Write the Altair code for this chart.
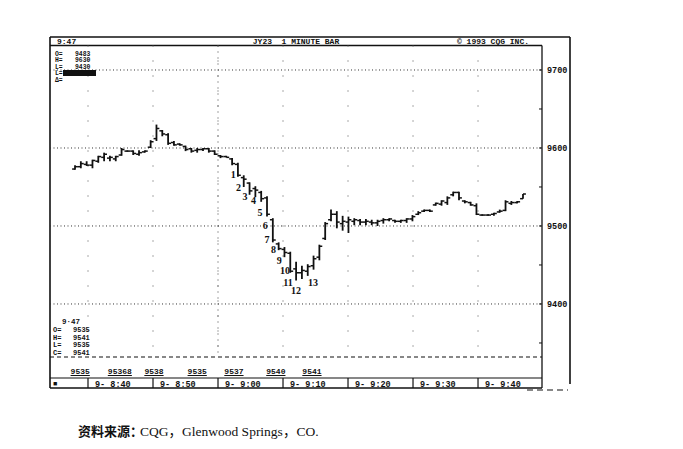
import altair as alt
import pandas as pd

# ---------------- data ----------------
bar_open = [9573, 9576, 9579, 9578, 9583, 9588, 9587, 9586, 9591, 9596,
            9596, 9592, 9595, 9601, 9612, 9622, 9617, 9607, 9605, 9602,
            9599, 9597, 9598, 9599, 9596, 9590, 9589, 9586,
            9579, 9562, 9555, 9548, 9543, 9536, 9508, 9477, 9470, 9465, 9445, 9440, 9442,
            9449, 9460, 9484, 9508, 9515, 9503, 9505, 9506, 9507, 9505,
            9505, 9504, 9507, 9508, 9507, 9506, 9507, 9509, 9515, 9519,
            9520, 9527, 9528, 9530, 9540, 9543, 9532, 9530, 9526, 9514,
            9514, 9515, 9518, 9520, 9529, 9530, 9535]
bar_high = [9578, 9583, 9583, 9585, 9590, 9594, 9590, 9590, 9600, 9597,
            9597, 9597, 9597, 9610, 9630, 9623, 9619, 9609, 9606, 9603,
            9600, 9600, 9600, 9600, 9597, 9591, 9590, 9587,
            9581, 9565, 9556, 9551, 9545, 9538, 9510, 9479, 9473, 9467, 9454, 9449, 9451,
            9462, 9476, 9505, 9521, 9519, 9513, 9512, 9510, 9509, 9509,
            9508, 9508, 9510, 9510, 9508, 9508, 9510, 9514, 9519, 9521,
            9521, 9530, 9533, 9538, 9544, 9544, 9533, 9531, 9529, 9515,
            9515, 9517, 9521, 9533, 9532, 9532, 9541]
bar_low = [9572, 9574, 9577, 9574, 9581, 9583, 9583, 9583, 9590, 9595,
           9591, 9590, 9594, 9600, 9609, 9615, 9604, 9603, 9603, 9596,
           9594, 9594, 9596, 9594, 9591, 9587, 9588, 9578,
           9563, 9550, 9540, 9537, 9531, 9512, 9479, 9469, 9460, 9440, 9430, 9432, 9436,
           9444, 9456, 9482, 9506, 9497, 9494, 9491, 9501, 9501, 9501,
           9501, 9500, 9503, 9506, 9504, 9504, 9504, 9506, 9514, 9518,
           9518, 9526, 9526, 9527, 9538, 9533, 9529, 9526, 9514, 9513,
           9513, 9513, 9517, 9519, 9527, 9529, 9535]
bar_close = [9576, 9580, 9578, 9584, 9589, 9592, 9588, 9589, 9598, 9596,
             9593, 9594, 9596, 9608, 9625, 9618, 9606, 9604, 9604, 9598,
             9596, 9598, 9599, 9596, 9592, 9589, 9588, 9580,
             9565, 9560, 9545, 9546, 9535, 9515, 9482, 9471, 9466, 9442, 9440, 9443, 9448,
             9458, 9474, 9503, 9515, 9505, 9506, 9508, 9508, 9505, 9506,
             9504, 9506, 9508, 9509, 9506, 9507, 9509, 9512, 9517, 9520,
             9519, 9529, 9532, 9536, 9543, 9536, 9531, 9527, 9515, 9514,
             9514, 9516, 9519, 9531, 9530, 9531, 9541]

grid_prices = [9700, 9600, 9500, 9400]
axis_ticks = [9350, 9400, 9450, 9500, 9550, 9600, 9650, 9700]

count_labels = [str(k) for k in range(1, 14)]
count_bar = list(range(28, 41))
count_price = [9565, 9549, 9537, 9532, 9517, 9500, 9482, 9469, 9455, 9442, 9427, 9417, 9427]
count_shift = [-0.8, -0.9, -0.8, -0.3, -0.2, -0.3, -1.0, -0.9, -0.9, -0.9, -1.4, -1.0, 0.9]

time_minutes = [0, 10, 20, 30, 40, 50, 60]
time_labels = ["9- 8:40", "9- 8:50", "9- 9:00", "9- 9:10", "9- 9:20", "9- 9:30", "9- 9:40"]

tape_prices = ["9535", "95368", "9538", "9535", "9537", "9540", "9541"]
tape_minutes = [-1.2, 4.9, 10.15, 16.8, 22.45, 28.9, 34.45]

top_info_keys = ["O=", "H=", "L=", "L=", "Δ="]
top_info_vals = ["9483", "9630", "9430", "", "+58"]
bottom_info_time = "9·47"
bottom_info_keys = ["O=", "H=", "L=", "C="]
bottom_info_vals = ["9535", "9541", "9535", "9541"]

header_left = "9:47"
header_mid = "JY23\u00a0\u00a01\u00a0MINUTE\u00a0BAR"
header_right = "©\u00a01993\u00a0CQG\u00a0INC."
caption_cn = "资料来源："
caption_en = "CQG，Glenwood Springs，CO."

# ---------------- tables ----------------
bars = pd.DataFrame({"i": range(len(bar_open)), "o": bar_open, "h": bar_high,
                     "l": bar_low, "c": bar_close})
grid = pd.DataFrame({"p": grid_prices})
ticks = pd.DataFrame({"p": axis_ticks})
counts = pd.DataFrame({"t": count_labels, "b": count_bar, "p": count_price, "s": count_shift})
times = pd.DataFrame({"m": time_minutes, "t": time_labels})
tape = pd.DataFrame({"m": tape_minutes, "t": tape_prices})
one = pd.DataFrame({"a": [0]})

MONO = "Liberation Mono"
INK = "#111111"

xbar = alt.Scale(domain=[-4.3, 85.08], nice=False, zero=False)
xtime = alt.Scale(domain=[-5.846, 74.15], nice=False, zero=False)
yscale = alt.Scale(domain=[9289.7, 9742.3], nice=False, zero=False)

W, H = 520, 353
RX = 492  # inner right axis line


def hline(y, x1, x2, **kw):
    return alt.Chart(one).mark_rule(color=INK, **kw).encode(
        x=alt.value(x1), x2=alt.value(x2), y=alt.value(y))


def vline(x, y1, y2, **kw):
    return alt.Chart(one).mark_rule(color=INK, **kw).encode(
        x=alt.value(x), y=alt.value(y1), y2=alt.value(y2))


def label(text, x, y, size=8.5, align="left", font=MONO, baseline="middle", **kw):
    return alt.Chart(one).mark_text(align=align, baseline=baseline, font=font,
                                    fontSize=size, color=INK, lineBreak="\n", **kw).encode(
        x=alt.value(x), y=alt.value(y), text=alt.value(text))


layers = []

# frame
layers += [
    hline(0, 0, W, strokeWidth=1.6),
    vline(0, 0, 351, strokeWidth=1.6),
    vline(W, 0, 347, strokeWidth=1.6),
    hline(8.5, 0, RX, strokeWidth=1.3),
    vline(RX, 8.5, 351, strokeWidth=1.3),
    hline(341, 0, RX, strokeWidth=1.2),
    hline(351, 0, RX, strokeWidth=1.4),
    hline(353, 477, 518, strokeWidth=1.2, strokeDash=[6, 4]),
    hline(320, 0, RX, strokeWidth=1.1, strokeDash=[4, 3]),
]

# price gridlines + right axis
layers.append(alt.Chart(grid).mark_rule(color="#333333", strokeWidth=1, strokeDash=[1, 2.5]).encode(
    x=alt.value(0), x2=alt.value(RX), y=alt.Y("p:Q", scale=yscale, axis=None)))
layers.append(alt.Chart(ticks).mark_rule(color=INK, strokeWidth=1).encode(
    x=alt.value(RX - 3), x2=alt.value(RX), y=alt.Y("p:Q", scale=yscale, axis=None)))
layers.append(alt.Chart(grid).mark_text(align="left", baseline="middle", font=MONO,
                                         fontSize=8.5, fontWeight="bold", color=INK).encode(
    x=alt.value(RX + 5), y=alt.Y("p:Q", scale=yscale, axis=None), text="p:N"))

# vertical time gridlines
layers.append(alt.Chart(times).mark_rule(color="#555555", strokeWidth=1, strokeDash=[1, 14]).encode(
    x=alt.X("m:Q", scale=xtime, axis=None), y=alt.value(8.5), y2=alt.value(320)))
layers.append(alt.Chart(times).transform_filter("datum.m == 20").mark_rule(
    color="#444444", strokeWidth=1, strokeDash=[1, 5]).encode(
    x=alt.X("m:Q", scale=xtime, axis=None), y=alt.value(8.5), y2=alt.value(320)))

# OHLC bars
layers.append(alt.Chart(bars).mark_rule(color=INK, strokeWidth=1.8).encode(
    x=alt.X("i:Q", scale=xbar, axis=None),
    y=alt.Y("l:Q", scale=yscale, axis=None), y2="h:Q"))
layers.append(alt.Chart(bars).transform_calculate(a="datum.i - 0.5").mark_rule(
    color=INK, strokeWidth=1.5).encode(
    x=alt.X("a:Q", scale=xbar, axis=None), x2="i:Q",
    y=alt.Y("o:Q", scale=yscale, axis=None)))
layers.append(alt.Chart(bars).transform_calculate(b="datum.i + 0.5").mark_rule(
    color=INK, strokeWidth=1.5).encode(
    x=alt.X("i:Q", scale=xbar, axis=None), x2="b:Q",
    y=alt.Y("c:Q", scale=yscale, axis=None)))

# wave count labels
layers.append(alt.Chart(counts).transform_calculate(xx="datum.b + datum.s").mark_text(
    font="Liberation Serif", fontWeight="bold", fontSize=10, color=INK,
    align="center", baseline="middle").encode(
    x=alt.X("xx:Q", scale=xbar, axis=None),
    y=alt.Y("p:Q", scale=yscale, axis=None), text="t:N"))

# header
layers += [
    label(header_left, 7, 4.5, size=8, fontWeight="bold"),
    label(header_mid, 246, 4.5, size=8, align="center", fontWeight="bold"),
    label(header_right, 443, 4.5, size=8, align="center", fontWeight="bold"),
]

# top-left info block
layers += [
    label("\n".join(top_info_keys), 5, 14, size=6.4, baseline="top", lineHeight=6.4,
          fontWeight="bold"),
    label("\n".join(top_info_vals), 25, 14, size=6.4, baseline="top", lineHeight=6.4,
          fontWeight="bold"),
    alt.Chart(one).mark_rect(color=INK).encode(
        x=alt.value(13), x2=alt.value(46), y=alt.value(33), y2=alt.value(39)),
]

# bottom-left info block
layers += [
    label(bottom_info_time, 12, 285, size=7.5, fontWeight="bold"),
    label("\n".join(bottom_info_keys), 3, 289, size=7, baseline="top", lineHeight=7.6,
          fontWeight="bold"),
    label("\n".join(bottom_info_vals), 23, 289, size=7, baseline="top", lineHeight=7.6,
          fontWeight="bold"),
]

# tape of prices with underline
layers.append(alt.Chart(tape).mark_text(font=MONO, fontSize=8, fontWeight="bold", color=INK,
                                         align="center", baseline="middle").encode(
    x=alt.X("m:Q", scale=xtime, axis=None), y=alt.value(334.5), text="t:N"))
layers.append(alt.Chart(tape).transform_calculate(
    m0="datum.m - length(datum.t) * 0.37", m1="datum.m + length(datum.t) * 0.37").mark_rule(
    color=INK, strokeWidth=1).encode(
    x=alt.X("m0:Q", scale=xtime, axis=None), x2="m1:Q", y=alt.value(338.5)))

# time strip
layers.append(alt.Chart(times).mark_rule(color=INK, strokeWidth=1.2).encode(
    x=alt.X("m:Q", scale=xtime, axis=None), y=alt.value(341), y2=alt.value(351)))
layers.append(alt.Chart(times).mark_text(font=MONO, fontSize=8.5, fontWeight="bold", color=INK,
                                          align="left", baseline="middle", dx=7).encode(
    x=alt.X("m:Q", scale=xtime, axis=None), y=alt.value(346.5), text="t:N"))
layers.append(label("■", 3, 346.5, size=7))

# caption
layers += [
    label(caption_cn, 28, 395, size=13, font="Noto Sans CJK SC", fontWeight="bold"),
    label(caption_en, 90, 395, size=13.5, font="Liberation Serif, 'Noto Sans CJK SC'"),
]

chart = alt.layer(*layers).resolve_scale(x="independent").properties(
    width=W, height=H,
    padding={"left": 42, "top": 29, "right": 5, "bottom": 55},
    autosize=alt.AutoSizeParams(type="none"),
    background="white",
).configure_view(stroke=None)

chart.save("out.html", embed_options={"renderer": "svg", "actions": False})
